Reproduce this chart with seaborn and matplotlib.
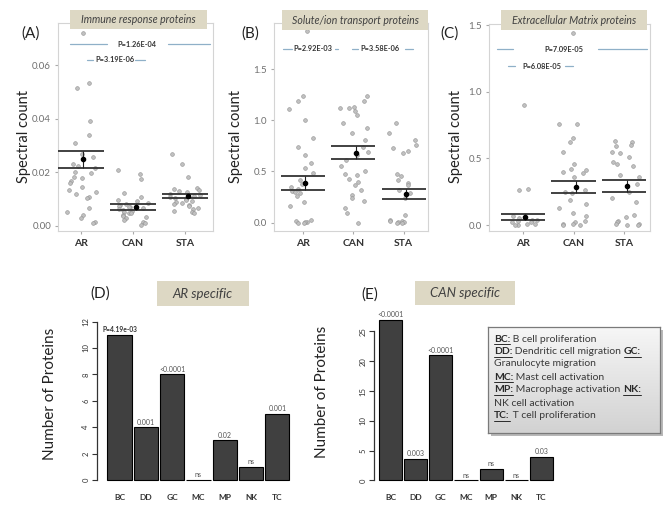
import numpy as np
import pandas as pd
import matplotlib
matplotlib.use("Agg")
import matplotlib.pyplot as plt
from matplotlib.patches import Rectangle
from matplotlib.lines import Line2D
from matplotlib.colors import LinearSegmentedColormap
import seaborn as sns

W, H = 671, 509
sns.set_style("white")
plt.rcParams['font.family'] = ['Lato', 'DejaVu Sans']

groups = ["AR", "CAN", "STA"]

# (A) immune response proteins
immune_ar = [0.072, 0.0535, 0.0513, 0.039, 0.034, 0.031, 0.027, 0.0258, 0.023, 0.0224,
             0.0215, 0.0202, 0.0196, 0.0184, 0.0178, 0.0169, 0.0159, 0.0147, 0.0134, 0.0128,
             0.0119, 0.0109, 0.0103, 0.0066, 0.0053, 0.0041, 0.0029, 0.0016, 0.001]
immune_can = [0.0209, 0.0194, 0.0175, 0.0124, 0.0109, 0.0097, 0.0092, 0.0087, 0.0082, 0.0078,
              0.0075, 0.0072, 0.0069, 0.0066, 0.0063, 0.006, 0.0057, 0.0053, 0.005, 0.0047,
              0.0042, 0.0037, 0.0033, 0.0029, 0.0022, 0.0016, 0.001, 0.0005]
immune_sta = [0.0267, 0.023, 0.0184, 0.014, 0.0137, 0.0133, 0.013, 0.0125, 0.012, 0.0116,
              0.0112, 0.0108, 0.0105, 0.0101, 0.0097, 0.0093, 0.009, 0.0086, 0.0082, 0.0078,
              0.0073, 0.0068, 0.0062, 0.0057, 0.0052, 0.0047]
immune_hi = [0.028, 0.0081, 0.0119]
immune_lo = [0.0215, 0.006, 0.0103]
immune_mean = [0.025, 0.007, 0.011]

# (B) solute/ion transport proteins
solute_ar = [1.87, 1.24, 1.19, 1.11, 1.0, 0.83, 0.74, 0.66, 0.58, 0.53, 0.49, 0.42, 0.38, 0.35,
             0.33, 0.31, 0.30, 0.29, 0.26, 0.20, 0.16, 0.03, 0.02, 0.01, 0.01, 0.0, 0.0]
solute_can = [1.24, 1.19, 1.13, 1.12, 1.12, 1.09, 1.05, 0.97, 0.92, 0.88, 0.81, 0.74, 0.69, 0.66,
              0.61, 0.55, 0.50, 0.48, 0.47, 0.43, 0.40, 0.37, 0.32, 0.27, 0.24, 0.21, 0.14, 0.09, 0.0]
solute_sta = [0.97, 0.88, 0.81, 0.76, 0.73, 0.70, 0.68, 0.48, 0.46, 0.42, 0.39, 0.37, 0.32, 0.29,
              0.24, 0.075, 0.03, 0.02, 0.02, 0.01, 0.01, 0.0, 0.0]
solute_hi = [0.46, 0.745, 0.33]
solute_lo = [0.315, 0.62, 0.23]
solute_mean = [0.386, 0.68, 0.28]

# (C) extracellular matrix proteins
ecm_ar = [0.90, 0.27, 0.26, 0.07, 0.05, 0.04, 0.04, 0.03, 0.02, 0.02, 0.01, 0.01, 0.0, 0.0]
ecm_can = [1.44, 0.76, 0.76, 0.655, 0.62, 0.545, 0.46, 0.42, 0.41, 0.40, 0.39, 0.36, 0.26, 0.25,
           0.24, 0.19, 0.155, 0.125, 0.09, 0.07, 0.03, 0.02, 0.01, 0.01, 0.0, 0.0]
ecm_sta = [0.63, 0.62, 0.60, 0.59, 0.55, 0.54, 0.51, 0.475, 0.46, 0.44, 0.375, 0.36, 0.305, 0.25,
           0.2, 0.175, 0.075, 0.06, 0.03, 0.02, 0.01, 0.01, 0.0, 0.0]
ecm_hi = [0.083, 0.33, 0.34]
ecm_lo = [0.038, 0.24, 0.245]
ecm_mean = [0.06, 0.285, 0.29]

# (D)/(E) cell-type specific counts
cells = ["BC", "DD", "GC", "MC", "MP", "NK", "TC"]
ar_counts = [11, 4, 8, 0, 3, 1, 5]
ar_pvals = ["P=4.19e-03", "0.001", "<0.0001", "ns", "0.02", "ns", "0.001"]
can_counts = [27, 3.6, 21, 0, 2, 0, 4]
can_pvals = ["<0.0001", "0.003", "<0.0001", "ns", "ns", "ns", "0.03"]

legend_lines = [
    [("BC:", True), (" B cell proliferation", False)],
    [("DD:", True), (" Dendritic cell migration ", False), ("GC:", True)],
    [("Granulocyte migration", False)],
    [("MC:", True), (" Mast cell activation", False)],
    [("MP:", True), (" Macrophage activation ", False), ("NK:", True)],
    [("NK cell activation", False)],
    [("TC:", True), (" T cell proliferation", False)],
]

fig = plt.figure(figsize=(W / 100, H / 100), dpi=100)
fig.patch.set_facecolor("white")


def px_ax(l, t, r, b):
    return fig.add_axes([l / W, 1 - b / H, (r - l) / W, (b - t) / H])


def ftext(x, y, s, **kw):
    return fig.text(x / W, 1 - y / H, s, **kw)


def title_box(l, t, r, b, s, size):
    fig.add_artist(Rectangle((l / W, 1 - b / H), (r - l) / W, (b - t) / H,
                             transform=fig.transFigure, facecolor="#ddd8c4",
                             edgecolor="none", zorder=5))
    ftext((l + r) / 2, (t + b) / 2, s, ha="center", va="center", fontsize=size,
          style="italic", color="#404040", zorder=6)


def dot_panel(box, ar, can, sta, hi, lo, mean, xlim, ylim, yticks, fmt, pvals):
    ax = px_ax(*box)
    df = pd.DataFrame({"group": ["AR"] * len(ar) + ["CAN"] * len(can) + ["STA"] * len(sta),
                       "value": ar + can + sta})
    sns.stripplot(data=df, x="group", y="value", order=groups, jitter=0.3, size=2.7,
                  color="#c0c0c0", edgecolor="#909090", linewidth=0.4, ax=ax, zorder=2)
    pos = np.arange(3)
    ax.hlines(hi, pos - 0.44, pos + 0.44, color="#333333", lw=1.3, zorder=3)
    ax.hlines(lo, pos - 0.44, pos + 0.44, color="#333333", lw=1.3, zorder=3)
    ax.vlines(pos + 0.05, lo, hi, color="#222222", lw=0.8, zorder=3)
    ax.plot(pos + 0.05, mean, "o", color="black", ms=3, zorder=4)
    for label, y, segs, xc in pvals:
        for x0, x1 in segs:
            ax.plot([x0, x1], [y, y], color="#8fb0c8", lw=0.9, zorder=3)
        ax.text(xc, y, label, ha="center", va="center", fontsize=5.3,
                fontweight="bold", color="#333333", zorder=4)
    ax.set_xlim(*xlim)
    ax.set_ylim(*ylim)
    ax.set_xticks(pos, groups, fontweight="bold")
    ax.set_yticks(yticks, [fmt.format(v) for v in yticks])
    ax.set_xlabel("")
    ax.set_ylabel("")
    for sp in ax.spines.values():
        sp.set_visible(True)
        sp.set_color("#d4d4d4")
        sp.set_linewidth(0.8)
    ax.tick_params(axis="y", labelsize=7, labelcolor="#707070", length=2, color="#aaaaaa",
                   direction="out", left=True, pad=3)
    ax.tick_params(axis="x", labelsize=7.5, labelcolor="#333333", length=2, color="#aaaaaa",
                   direction="out", bottom=True, pad=4)
    return ax


dot_panel((58, 23, 213, 231), immune_ar, immune_can, immune_sta,
          immune_hi, immune_lo, immune_mean, (-0.44, 2.54), (-0.0019, 0.0757),
          [0.0, 0.02, 0.04, 0.06], "{:.2f}",
          [("P=1.26E-04", 0.0677, [(-0.21, 0.5), (1.67, 2.48)], 1.08),
           ("P=3.19E-06", 0.0619, [(0.12, 0.23), (1.04, 1.23)], 0.65)])
dot_panel((274, 23, 428, 231), solute_ar, solute_can, solute_sta,
          solute_hi, solute_lo, solute_mean, (-0.57, 2.48), (-0.081, 1.95),
          [0.0, 0.5, 1.0, 1.5], "{:.1f}",
          [("P=2.92E-03", 1.70, [(-0.4, -0.22), (0.63, 0.69)], 0.2),
           ("P=3.58E-06", 1.70, [(0.97, 1.09), (2.02, 2.18)], 1.52)])
dot_panel((489, 24, 650, 231), ecm_ar, ecm_can, ecm_sta,
          ecm_hi, ecm_lo, ecm_mean, (-0.67, 2.51), (-0.045, 1.508),
          [0.0, 0.5, 1.0, 1.5], "{:.1f}",
          [("P=7.09E-05", 1.318, [(-0.51, -0.2), (1.49, 2.46)], 0.81),
           ("P=6.08E-05", 1.19, [(-0.3, -0.16), (0.83, 0.99)], 0.38)])

title_box(70, 10, 207, 29, "Immune response proteins", 7.6)
title_box(282, 10, 428, 30, "Solute/ion transport proteins", 7.6)
title_box(501, 10, 647, 30, "Extracellular Matrix proteins", 7.6)
for x, s in [(31, "(A)"), (250, "(B)"), (450, "(C)")]:
    ftext(x, 34, s, ha="center", va="center", fontsize=11, color="#222222")
for x in [24, 236, 456]:
    ftext(x, 136, "Spectral count", ha="center", va="center", rotation=90,
          fontsize=10.5, color="#222222")


def bar_panel(box, counts, pvals, xlim, ylim, yticks, first_bold):
    ax = px_ax(*box)
    sns.barplot(x=cells, y=counts, color="#404040", edgecolor="black", linewidth=0.8,
                width=0.92, saturation=1, ax=ax)
    for i, (v, s) in enumerate(zip(counts, pvals)):
        bold = first_bold and i == 0
        ax.annotate(s, (i, v), xytext=(0, 1.2), textcoords="offset points",
                    ha="center", va="bottom", fontsize=5 if not bold else 4.8,
                    fontweight="bold" if bold else "normal",
                    color="#333333" if bold else "#555555", annotation_clip=False)
    ax.set_xlim(*xlim)
    ax.set_ylim(*ylim)
    ax.set_xticks(np.arange(len(cells)), cells, fontweight="bold")
    ax.set_yticks(yticks, [str(v) for v in yticks], rotation=90, va="center")
    ax.set_xlabel("")
    ax.set_ylabel("")
    sns.despine(ax=ax, bottom=True)
    ax.spines["left"].set_bounds(yticks[0], yticks[-1])
    ax.spines["left"].set_color("#333333")
    ax.spines["left"].set_linewidth(0.9)
    ax.tick_params(axis="y", labelsize=5.5, length=3.5, color="#333333",
                   left=True, labelcolor="#333333", pad=2)
    ax.tick_params(axis="x", length=0, labelsize=6, labelcolor="#333333", pad=7)
    ax.set_facecolor("none")
    return ax


bar_panel((97, 319, 295, 484), ar_counts, ar_pvals, (-0.855, 6.67), (-0.3, 12.2),
          [0, 2, 4, 6, 8, 10, 12], True)
bar_panel((374, 316, 560, 484), can_counts, can_pvals, (-0.655, 6.73), (-0.6, 27.6),
          [0, 5, 10, 15, 20, 25], False)

title_box(157, 281, 249, 306, "AR specific", 9.5)
title_box(415, 281, 515, 305, "CAN specific", 9.5)
ftext(100, 294, "(D)", ha="center", va="center", fontsize=11, color="#222222")
ftext(370, 295, "(E)", ha="center", va="center", fontsize=11, color="#222222")
ftext(50, 394, "Number of Proteins", ha="center", va="center", rotation=90,
      fontsize=11, color="#222222")
ftext(322, 392, "Number of Proteins", ha="center", va="center", rotation=90,
      fontsize=11, color="#222222")

# legend box with shadow and gradient
fig.add_artist(Rectangle((491 / W, 1 - 436 / H), 172 / W, 106 / H, transform=fig.transFigure,
                         facecolor="#b8b8b8", edgecolor="none", zorder=1))
leg = px_ax(488, 327, 660, 433)
grad = np.linspace(0, 1, 100).reshape(-1, 1)
cmap = LinearSegmentedColormap.from_list("g", ["#f6f6f6", "#d2d2d2"])
leg.imshow(grad, cmap=cmap, aspect="auto", extent=[0, 1, 0, 1], origin="upper")
leg.set_xticks([])
leg.set_yticks([])
for sp in leg.spines.values():
    sp.set_color("#7a7a7a")
    sp.set_linewidth(0.9)
leg.set_zorder(2)

renderer = fig.canvas.get_renderer()
line_y = [339, 352, 364, 377, 390, 403, 416]
for y, parts in zip(line_y, legend_lines):
    x = 494
    for s, key in parts:
        t = ftext(x, y, s, ha="left", va="center", fontsize=7.5,
                  fontweight="bold" if key else "normal",
                  color="#2a2a2a" if key else "#3a3a3a", zorder=10)
        bb = t.get_window_extent(renderer)
        if key:
            uy = 1 - (y + 5) / H
            fig.add_artist(Line2D([bb.x0 / W, bb.x1 / W], [uy, uy], color="#2a2a2a",
                                  lw=0.7, transform=fig.transFigure, zorder=10))
        x = bb.x1

fig.savefig("out.png", dpi=100)
